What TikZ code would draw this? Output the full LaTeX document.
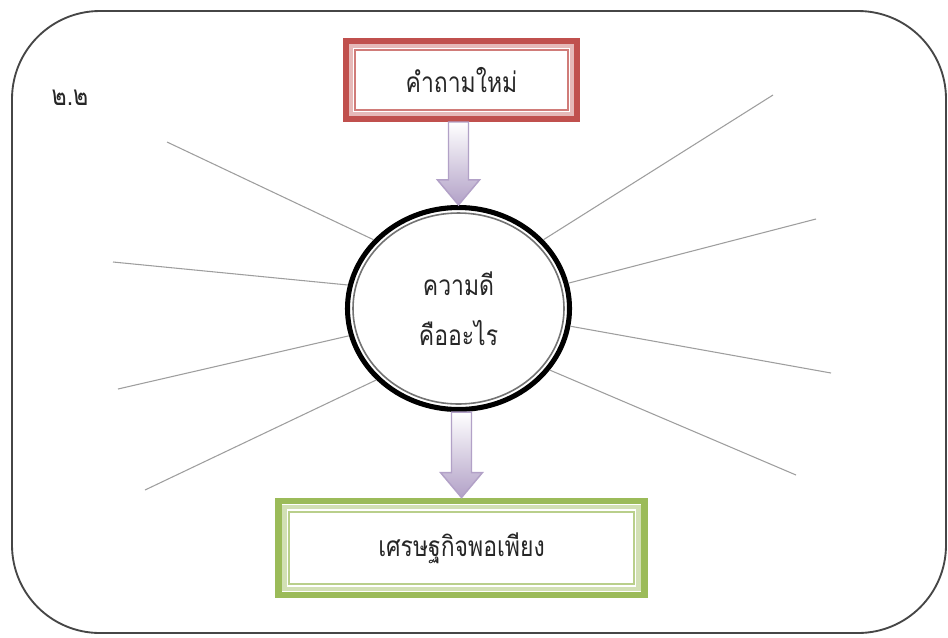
\documentclass[tikz,border=0pt]{standalone}
\usepackage{fontspec}
\newfontfamily\thaifont[Script=Thai,FakeStretch=0.82]{Loma}
\usetikzlibrary{calc,shapes.geometric}

\definecolor{boxred}{RGB}{192,80,77}
\definecolor{boxgreen}{RGB}{155,187,89}
\definecolor{arrowlilac}{RGB}{178,161,199}
\definecolor{raygray}{RGB}{158,158,158}
\definecolor{framegray}{RGB}{70,70,70}

\tikzset{
  thaitext/.style={font=\thaifont\fontsize{21}{37.5}\selectfont, text=black!85},
  framebox/.style={rectangle, fill=white, inner sep=0pt, thaitext},
  blockarrow/.style={draw=arrowlilac, line width=1.1pt, line join=miter, top color=white, bottom color=arrowlilac},
  ray/.style={draw=raygray, line width=0.8pt}
}

\begin{document}
\begin{tikzpicture}[x=0.75pt,y=0.75pt,yscale=-1,xscale=1]
\useasboundingbox (0,0) rectangle (948,637);

%Rounded frame
\draw [framegray, line width=1.4pt, rounded corners=66pt] (12,11) rectangle (946,633) ;

% Text Node
\node [thaitext, anchor=west] (num) at (47,98) {๒.๒};

%Question box (red)
\node [framebox, draw=boxred, line width=4.5pt, minimum width=173pt, minimum height=58.5pt] (ask) at (461.5,80) {คำถามใหม่};
\draw [boxred!40, line width=3pt] ([shift={(8,8)}]ask.north west) rectangle ([shift={(-8,-8)}]ask.south east) ;
\draw [boxred!75, line width=1.5pt] ([shift={(12,12)}]ask.north west) rectangle ([shift={(-12,-12)}]ask.south east) ;

%Centre ellipse
\node [ellipse, draw=black, line width=3.8pt, fill=white, inner sep=0pt, minimum width=166.5pt, minimum height=151.5pt, align=center, thaitext] (circ) at (458.5,308.5) {ความดี\\คืออะไร};
\draw [black!55, line width=1.2pt] (circ.center) ellipse [x radius=105.5, y radius=95.5] ;

%Answer box (green)
\node [framebox, draw=boxgreen, line width=5.2pt, minimum width=275pt, minimum height=70.5pt] (plan) at (461.5,548) {เศรษฐกิจพอเพียง};
\draw [boxgreen!45, line width=3.5pt] ([shift={(9.5,9.5)}]plan.north west) rectangle ([shift={(-9.5,-9.5)}]plan.south east) ;
\draw [boxgreen!70, line width=1.5pt] ([shift={(14,14)}]plan.north west) rectangle ([shift={(-14,-14)}]plan.south east) ;

%Block arrows
\foreach \a/\b in {ask/circ, circ/plan}
  \draw [blockarrow] ($(\a.south -| \b.north)+(-10,0)$) -- ($(\b.north)+(-10,-25)$) -- ($(\b.north)+(-21,-25)$) -- (\b.north) -- ($(\b.north)+(21,-25)$) -- ($(\b.north)+(10,-25)$) -- ($(\a.south -| \b.north)+(10,0)$) -- cycle ;

%Rays
\coordinate (l1) at (167,142);
\coordinate (l2) at (113,262);
\coordinate (l3) at (118,389);
\coordinate (l4) at (145,490);
\coordinate (r1) at (773,95);
\coordinate (r2) at (816,219);
\coordinate (r3) at (831,373);
\coordinate (r4) at (796,475);
\foreach \ang/\pt in {141/l1, 168/l2, 194/l3, 221/l4, 39/r1, 13/r2, -9/r3, -34/r4}
  \draw [ray] (circ.\ang) -- (\pt) ;

\end{tikzpicture}
\end{document}
